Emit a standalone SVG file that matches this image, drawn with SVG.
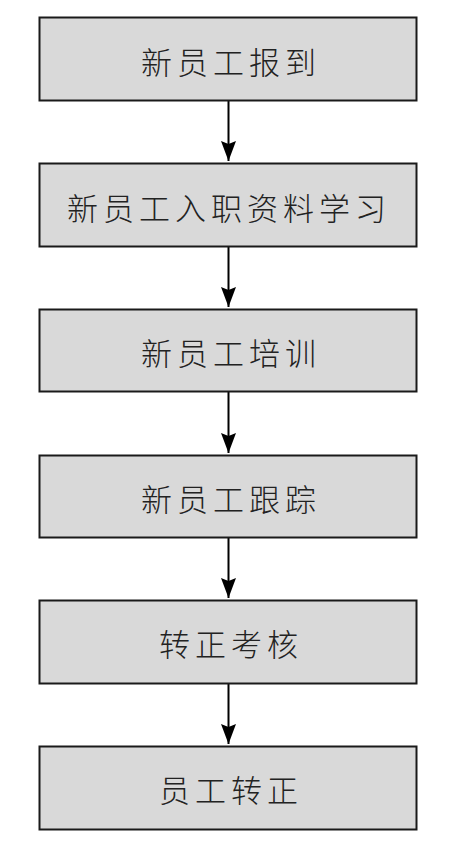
<svg xmlns="http://www.w3.org/2000/svg" width="459" height="853" viewBox="0 0 459 853">
<style>
.box{fill:#d9d9d9;stroke:#1a1a1a;stroke-width:2}
.lbl{font-family:"Noto Sans CJK SC","Noto Sans CJK TC",sans-serif;font-size:31px;font-weight:300;fill:#222;text-anchor:middle;dominant-baseline:central;letter-spacing:5px}
.conn{stroke:#000;stroke-width:2;fill:none}
</style>
<defs>
<marker id="ah" markerUnits="userSpaceOnUse" markerWidth="20" markerHeight="15" refX="20" refY="7.5" orient="auto" viewBox="0 0 20 15">
<path d="M0,0 L20,7.5 L0,15 L3,7.5 Z" fill="#000"/>
</marker>
</defs>
<rect width="459" height="853" fill="#fff"/>
<g id="connectors">
<line class="conn" x1="228.5" y1="101" x2="228.5" y2="161" marker-end="url(#ah)"/>
<line class="conn" x1="228.5" y1="247" x2="228.5" y2="307" marker-end="url(#ah)"/>
<line class="conn" x1="228.5" y1="392" x2="228.5" y2="453" marker-end="url(#ah)"/>
<line class="conn" x1="228.5" y1="538" x2="228.5" y2="598" marker-end="url(#ah)"/>
<line class="conn" x1="228.5" y1="684" x2="228.5" y2="744" marker-end="url(#ah)"/>
</g>
<g id="n1"><rect class="box" x="39.5" y="17.5" width="377" height="83"/><text class="lbl" x="231" y="60">新员工报到</text></g>
<g id="n2"><rect class="box" x="39.5" y="163.5" width="377" height="83"/><text class="lbl" x="229" y="206">新员工入职资料学习</text></g>
<g id="n3"><rect class="box" x="39.5" y="309.5" width="377" height="82"/><text class="lbl" x="231" y="351">新员工培训</text></g>
<g id="n4"><rect class="box" x="39.5" y="455.5" width="377" height="82"/><text class="lbl" x="231" y="497">新员工跟踪</text></g>
<g id="n5"><rect class="box" x="39.5" y="600.5" width="377" height="83"/><text class="lbl" x="231" y="642">转正考核</text></g>
<g id="n6"><rect class="box" x="39.5" y="746.5" width="377" height="83"/><text class="lbl" x="231" y="788">员工转正</text></g>
</svg>
